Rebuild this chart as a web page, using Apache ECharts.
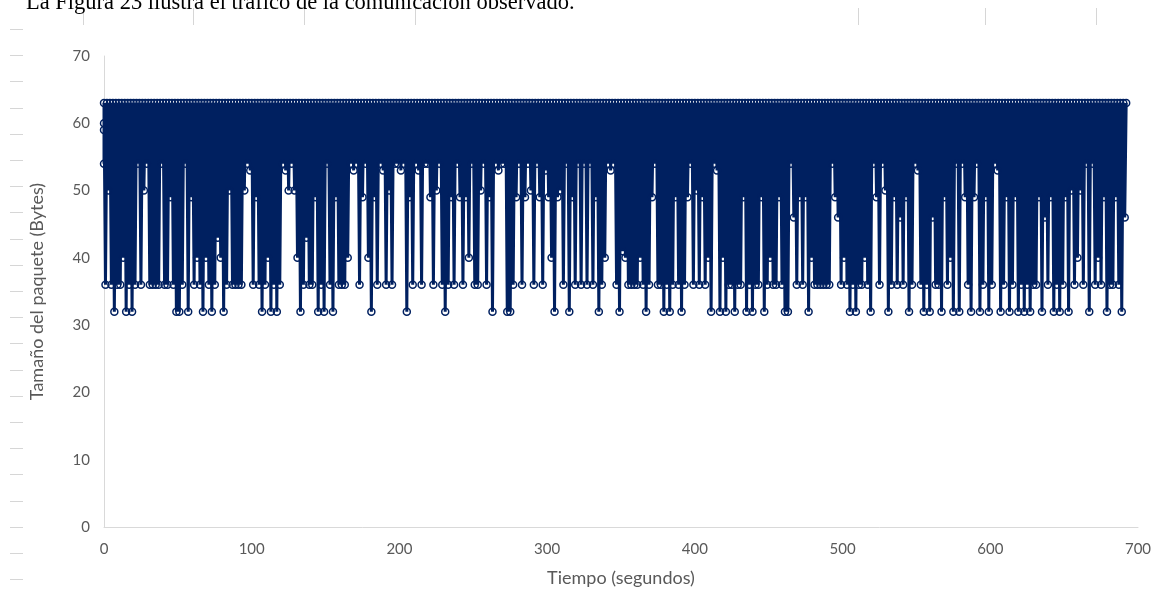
<!DOCTYPE html>
<html><head><meta charset="utf-8">
<script src="https://cdn.jsdelivr.net/npm/echarts@6/dist/echarts.min.js"></script>
<style>
html,body{margin:0;padding:0;background:#fff;overflow:hidden}
#chart{position:absolute;left:0;top:0;width:1174px;height:602px}
#doc{position:absolute;left:26px;top:-9px;font:22.5px/22.5px "Liberation Serif",serif;color:#000;white-space:nowrap}
</style></head><body>
<div id="chart"></div>
<div id="doc">La Figura 23 ilustra el tráfico de la comunicación observado.</div>
<script>
// Tiempo (segundos)
const times = [
0,0,0,
0,1,2,3,4,5,6,7,8,9,10,11,12,13,14,15,16,17,18,19,
20,21,22,23,24,25,26,27,28,29,30,31,32,33,34,35,36,37,38,39,
40,41,42,43,44,45,46,47,48,49,50,51,52,53,54,55,56,57,58,59,
60,61,62,63,64,65,66,67,68,69,70,71,72,73,74,75,76,77,78,79,
80,81,82,83,84,85,86,87,88,89,90,91,92,93,94,95,96,97,98,99,
100,101,102,103,104,105,106,107,108,109,110,111,112,113,114,115,116,117,118,119,
120,121,122,123,124,125,126,127,128,129,130,131,132,133,134,135,136,137,138,139,
140,141,142,143,144,145,146,147,148,149,150,151,152,153,154,155,156,157,158,159,
160,161,162,163,164,165,166,167,168,169,170,171,172,173,174,175,176,177,178,179,
180,181,182,183,184,185,186,187,188,189,190,191,192,193,194,195,196,197,198,199,
200,201,202,203,204,205,206,207,208,209,210,211,212,213,214,215,216,217,218,219,
220,221,222,223,224,225,226,227,228,229,230,231,232,233,234,235,236,237,238,239,
240,241,242,243,244,245,246,247,248,249,250,251,252,253,254,255,256,257,258,259,
260,261,262,263,264,265,266,267,268,269,270,271,272,273,274,275,276,277,278,279,
280,281,282,283,284,285,286,287,288,289,290,291,292,293,294,295,296,297,298,299,
300,301,302,303,304,305,306,307,308,309,310,311,312,313,314,315,316,317,318,319,
320,321,322,323,324,325,326,327,328,329,330,331,332,333,334,335,336,337,338,339,
340,341,342,343,344,345,346,347,348,349,350,351,352,353,354,355,356,357,358,359,
360,361,362,363,364,365,366,367,368,369,370,371,372,373,374,375,376,377,378,379,
380,381,382,383,384,385,386,387,388,389,390,391,392,393,394,395,396,397,398,399,
400,401,402,403,404,405,406,407,408,409,410,411,412,413,414,415,416,417,418,419,
420,421,422,423,424,425,426,427,428,429,430,431,432,433,434,435,436,437,438,439,
440,441,442,443,444,445,446,447,448,449,450,451,452,453,454,455,456,457,458,459,
460,461,462,463,464,465,466,467,468,469,470,471,472,473,474,475,476,477,478,479,
480,481,482,483,484,485,486,487,488,489,490,491,492,493,494,495,496,497,498,499,
500,501,502,503,504,505,506,507,508,509,510,511,512,513,514,515,516,517,518,519,
520,521,522,523,524,525,526,527,528,529,530,531,532,533,534,535,536,537,538,539,
540,541,542,543,544,545,546,547,548,549,550,551,552,553,554,555,556,557,558,559,
560,561,562,563,564,565,566,567,568,569,570,571,572,573,574,575,576,577,578,579,
580,581,582,583,584,585,586,587,588,589,590,591,592,593,594,595,596,597,598,599,
600,601,602,603,604,605,606,607,608,609,610,611,612,613,614,615,616,617,618,619,
620,621,622,623,624,625,626,627,628,629,630,631,632,633,634,635,636,637,638,639,
640,641,642,643,644,645,646,647,648,649,650,651,652,653,654,655,656,657,658,659,
660,661,662,663,664,665,666,667,668,669,670,671,672,673,674,675,676,677,678,679,
680,681,682,683,684,685,686,687,688,689,690,691,692
];
// Tamaño del paquete (Bytes)
const sizes = [
54,60,59,
63,36,63,50,63,36,63,32,63,36,
63,36,63,40,63,32,63,36,63,32,
63,36,63,54,63,36,63,50,63,54,
63,36,63,36,63,36,63,36,63,54,
63,36,63,36,63,49,63,36,63,32,
63,32,63,36,63,54,63,32,63,49,
63,36,63,40,63,36,63,32,63,40,
63,36,63,32,63,36,63,43,63,40,
63,32,63,36,63,50,63,36,63,36,
63,36,63,36,63,50,63,54,63,53,
63,36,63,49,63,36,63,32,63,36,
63,40,63,32,63,36,63,32,63,36,
63,54,63,53,63,50,63,54,63,50,
63,40,63,32,63,36,63,43,63,36,
63,36,63,49,63,32,63,36,63,32,
63,54,63,36,63,32,63,49,63,36,
63,36,63,36,63,40,63,54,63,53,
63,54,63,36,63,49,63,54,63,40,
63,32,63,49,63,36,63,54,63,53,
63,36,63,50,63,36,63,54,63,54,
63,53,63,54,63,32,63,49,63,36,
63,54,63,53,63,36,63,54,63,54,
63,49,63,36,63,50,63,54,63,36,
63,32,63,36,63,49,63,36,63,54,
63,49,63,36,63,49,63,40,63,54,
63,36,63,36,63,50,63,54,63,36,
63,49,63,32,63,54,63,53,63,54,
63,54,63,32,63,32,63,36,63,49,
63,54,63,36,63,49,63,54,63,50,
63,36,63,54,63,49,63,36,63,53,
63,49,63,40,63,32,63,49,63,50,
63,36,63,54,63,32,63,49,63,36,
63,54,63,36,63,54,63,36,63,54,
63,36,63,49,63,32,63,36,63,40,
63,54,63,53,63,54,63,36,63,32,
63,41,63,40,63,36,63,36,63,36,
63,36,63,40,63,36,63,32,63,36,
63,49,63,54,63,36,63,36,63,32,
63,36,63,32,63,36,63,49,63,36,
63,32,63,36,63,49,63,54,63,36,
63,50,63,36,63,49,63,36,63,40,
63,32,63,54,63,53,63,32,63,40,
63,32,63,36,63,36,63,32,63,36,
63,36,63,49,63,32,63,36,63,32,
63,36,63,36,63,49,63,32,63,36,
63,40,63,36,63,36,63,49,63,36,
63,32,63,32,63,54,63,46,63,36,
63,49,63,36,63,49,63,32,63,40,
63,36,63,36,63,36,63,36,63,36,
63,36,63,54,63,49,63,46,63,36,
63,40,63,36,63,32,63,36,63,32,
63,36,63,36,63,40,63,36,63,32,
63,54,63,49,63,36,63,54,63,50,
63,32,63,36,63,49,63,36,63,46,
63,36,63,49,63,32,63,36,63,54,
63,53,63,36,63,32,63,36,63,32,
63,46,63,36,63,36,63,32,63,49,
63,36,63,40,63,32,63,54,63,32,
63,54,63,49,63,36,63,32,63,49,
63,54,63,32,63,36,63,49,63,32,
63,36,63,54,63,53,63,32,63,36,
63,49,63,32,63,36,63,49,63,32,
63,36,63,32,63,36,63,32,63,36,
63,36,63,49,63,32,63,46,63,36,
63,49,63,32,63,36,63,32,63,36,
63,49,63,32,63,50,63,36,63,40,
63,50,63,36,63,54,63,32,63,54,
63,36,63,40,63,36,63,49,63,32,
63,36,63,36,63,49,63,36,63,32,
63,46,63
];
const xTitle = 'Tiempo (segundos)';
const yTitle = 'Tamaño del paquete (Bytes)';

const navy = '#002060';
const grey = '#d9d9d9';
const labelGrey = '#595959';
const font = 'Lato, "Open Sans", sans-serif';

const deco = [];
for (let i = 0; i < 22; i++) {
  const y = Math.round(29 + i * 26.2) + 0.5;
  deco.push({type:'line', silent:true, shape:{x1:10,y1:y,x2:23,y2:y}, style:{stroke:'#d6d6d6', lineWidth:1}});
}
[83,193,304,415,858,985,1096].forEach(x => {
  deco.push({type:'line', silent:true, shape:{x1:x+0.5,y1:8,x2:x+0.5,y2:25}, style:{stroke:'#d6d6d6', lineWidth:1}});
});

const chart = echarts.init(document.getElementById('chart'), null, {renderer:'canvas'});
chart.setOption({
  animation:false,
  backgroundColor:'#ffffff',
  grid:{left:104, right:36, top:56, bottom:75, containLabel:false},
  graphic: deco,
  xAxis:{
    type:'value', min:0, max:700, interval:100,
    name:xTitle, nameLocation:'middle', nameGap:42,
    nameTextStyle:{color:labelGrey, fontFamily:font, fontSize:18},
    axisLine:{show:true, onZero:false, lineStyle:{color:grey, width:1}},
    axisTick:{show:false}, splitLine:{show:false},
    axisLabel:{color:labelGrey, fontFamily:font, fontSize:15, margin:15}
  },
  yAxis:{
    type:'value', min:0, max:70, interval:10,
    name:yTitle, nameLocation:'middle', nameGap:58, nameRotate:90,
    nameTextStyle:{color:labelGrey, fontFamily:font, fontSize:18},
    axisLine:{show:true, lineStyle:{color:grey, width:1}},
    axisTick:{show:false}, splitLine:{show:false},
    axisLabel:{color:labelGrey, fontFamily:font, fontSize:15, margin:14}
  },
  series:[{
    type:'line',
    data: times.map((t, i) => [t, sizes[i]]),
    showSymbol:true, showAllSymbol:true,
    symbol:'circle', symbolSize:7,
    lineStyle:{color:navy, width:3},
    itemStyle:{color:'rgba(255,255,255,0)', borderColor:navy, borderWidth:1.5},
    emphasis:{disabled:true},
    silent:true
  }]
});
</script>
</body></html>
